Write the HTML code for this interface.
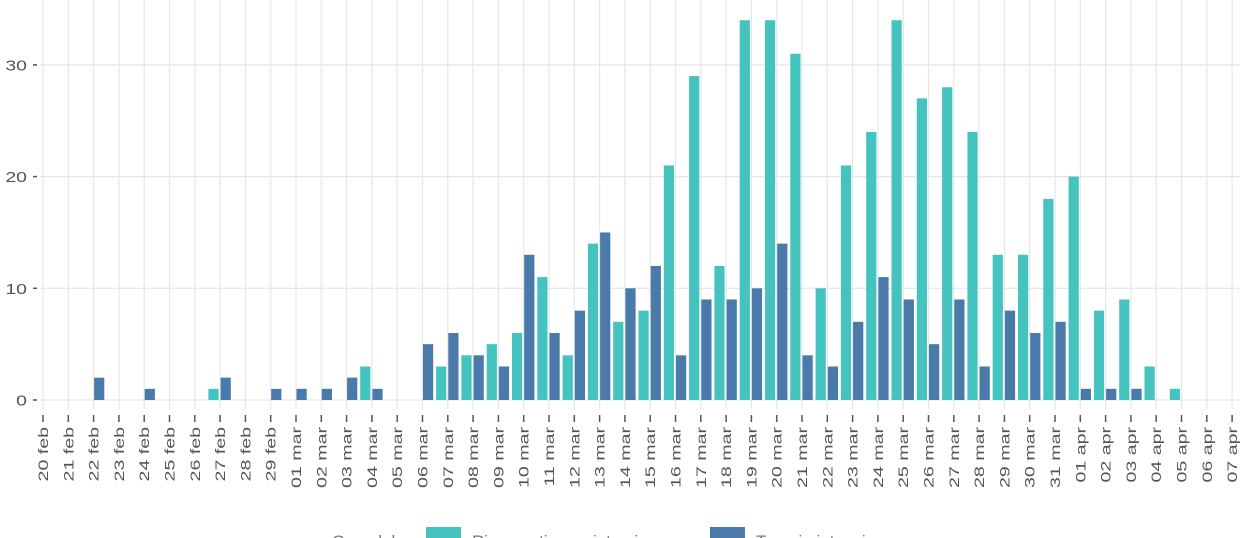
<!DOCTYPE html>
<html><head><meta charset="utf-8">
<style>
html,body{margin:0;padding:0;background:#fff;width:1256px;height:538px;overflow:hidden;font-family:"Liberation Sans",sans-serif;}
</style></head>
<body>
<svg id="chart" width="1256" height="538" xmlns="http://www.w3.org/2000/svg" font-family="Liberation Sans, sans-serif">
<g id="grid"></g>
<g id="bars"></g>
<g id="yaxis"></g>
<g id="xaxis"></g>
<g>
  <text x="332" y="547" font-size="17" fill="#777">Ospedale</text>
  <rect x="426" y="527" width="35" height="20" fill="#45c3bf"/>
  <text x="472" y="547" font-size="17" fill="#777">Ricoverati con sintomi</text>
  <rect x="710" y="527" width="35" height="20" fill="#4a7aa9"/>
  <text x="756" y="547" font-size="17" fill="#777">Terapia intensiva</text>
</g>
</svg>
<script>
const dates = ["20 feb","21 feb","22 feb","23 feb","24 feb","25 feb","26 feb","27 feb","28 feb","29 feb","01 mar","02 mar","03 mar","04 mar","05 mar","06 mar","07 mar","08 mar","09 mar","10 mar","11 mar","12 mar","13 mar","14 mar","15 mar","16 mar","17 mar","18 mar","19 mar","20 mar","21 mar","22 mar","23 mar","24 mar","25 mar","26 mar","27 mar","28 mar","29 mar","30 mar","31 mar","01 apr","02 apr","03 apr","04 apr","05 apr","06 apr","07 apr"];
const tealValues = [0,0,0,0,0,0,0,1,0,0,0,0,0,3,0,0,3,4,5,6,11,4,14,7,8,21,29,12,34,34,31,10,21,24,34,27,28,24,13,13,18,20,8,9,3,1,0,0];
const blueValues = [0,0,2,0,1,0,0,2,0,1,1,1,2,1,0,5,6,4,3,13,6,8,15,10,12,4,9,9,10,14,4,3,7,11,9,5,9,3,8,6,7,1,1,1,0,0,0,0];
const yTicks = [0,10,20,30];

const NS="http://www.w3.org/2000/svg";
const X0=43, STEP=25.3, Y0=400, PX_PER_UNIT=11.17, GRID_TOP=0, GRID_BOTTOM=409, BAR_W=11.2;
function xPos(i){return X0+i*STEP;}
function yPos(v){return Y0-v*PX_PER_UNIT;}
function mk(tag,attrs,parent){const e=document.createElementNS(NS,tag);for(const k in attrs)e.setAttribute(k,attrs[k]);parent.appendChild(e);return e;}
const gridG=document.getElementById('grid'),barsG=document.getElementById('bars'),yaG=document.getElementById('yaxis'),xaG=document.getElementById('xaxis');

yTicks.forEach(t=>{
  const l=mk('line',{x1:X0-3,x2:X0+47*STEP+8,y1:yPos(t),y2:yPos(t),stroke:'#e6e6e6','stroke-width':1.2},gridG);
  
  
  const tk=mk('line',{x1:33,x2:37,y1:yPos(t),y2:yPos(t),stroke:'#555','stroke-width':1.5},yaG);
  
  
  const tx=mk('text',{x:0,y:0,'text-anchor':'end','font-size':15,fill:'#555',transform:`translate(27,${yPos(t)+5.5}) scale(1.3,1)`},yaG);
  
  
  tx.textContent=t;
});

dates.forEach((d,i)=>{
  const x=xPos(i);
  const g=mk('line',{x1:x,x2:x,y1:GRID_TOP,y2:GRID_BOTTOM,stroke:'#e6e6e6','stroke-width':1.2},gridG);
  
  
  const tk=mk('line',{x1:x,x2:x,y1:415,y2:422,stroke:'#555','stroke-width':1.5},xaG);
  
  
  const tx=mk('text',{x:0,y:0,'text-anchor':'end','font-size':14,fill:'#555',transform:`translate(${x+5},427) rotate(-90) scale(1.4,1)`},xaG);
  
  
  tx.textContent=d;
  if(tealValues[i]>0){
    const r=mk('rect',{x:x-BAR_W-0.5,y:yPos(tealValues[i]),width:BAR_W-1,height:tealValues[i]*PX_PER_UNIT,fill:'#45c3bf'},barsG);
    
    
  }
  if(blueValues[i]>0){
    const r=mk('rect',{x:x+0.5,y:yPos(blueValues[i]),width:BAR_W-1,height:blueValues[i]*PX_PER_UNIT,fill:'#4a7aa9'},barsG);
    
    
  }
});
</script>
</body></html>
